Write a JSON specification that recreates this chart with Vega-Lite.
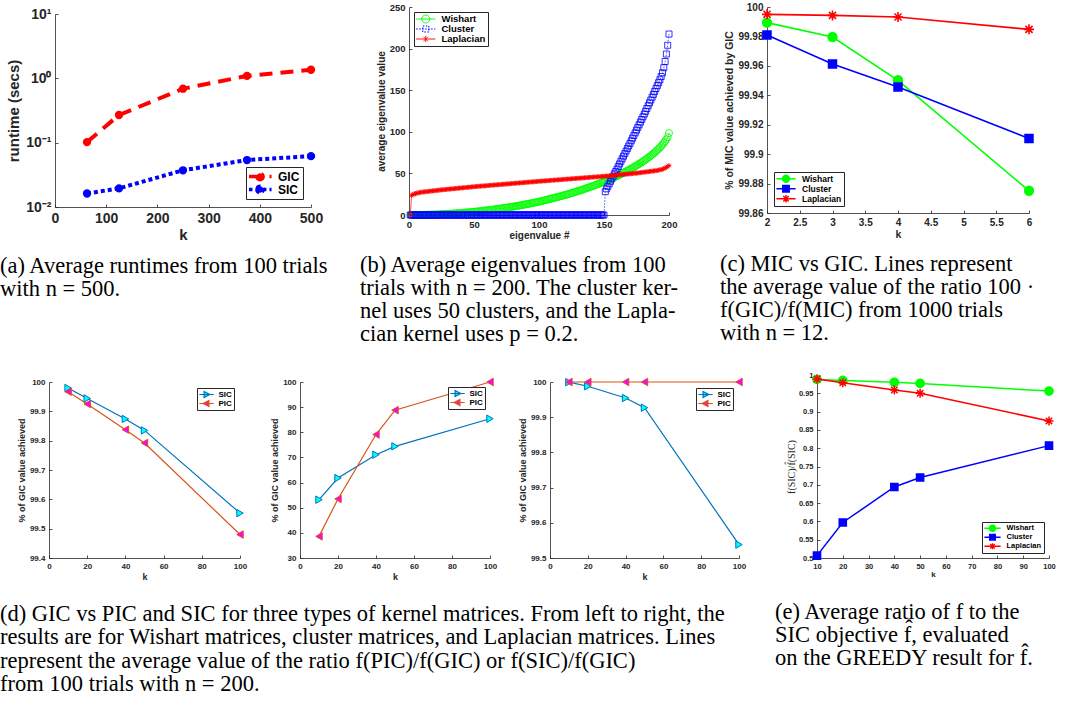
{
"$schema":"https://vega.github.io/schema/vega-lite/v6.json",
"background":"white",
"padding":{"left":0,"top":2,"right":0,"bottom":0},
"config":{
 "view":{"stroke":null},
 "axis":{"grid":false,"domainColor":"#262626","domainWidth":0.8,"tickColor":"#262626","tickWidth":0.8,"tickSize":-3,"labelPadding":7,"labelColor":"#262626","titleColor":"#262626","labelFont":"Liberation Sans","titleFont":"Liberation Sans","labelFontWeight":"bold","titleFontWeight":"bold","labelFlush":false,"labelOverlap":false},
 "legend":{"labelFont":"Liberation Sans","labelFontWeight":"bold","labelColor":"#000000","strokeColor":"#262626","fillColor":"#ffffff","symbolOpacity":1}
},
"datasets":{
"pa":[{"k":62.5,"GIC":0.102,"SIC":0.0162},{"k":125,"GIC":0.269,"SIC":0.0195},{"k":250,"GIC":0.69,"SIC":0.0372},{"k":375,"GIC":1.09,"SIC":0.0537},{"k":500,"GIC":1.36,"SIC":0.0617}],
"pc":[{"k":2,"W":99.9894,"C":99.981,"L":99.995},{"k":3,"W":99.9796,"C":99.9613,"L":99.9943},{"k":4,"W":99.9502,"C":99.9457,"L":99.9932},{"k":6,"W":99.8751,"C":99.9106,"L":99.9848}],
"pd1":[{"k":10,"S":99.9795,"P":99.967},{"k":20,"S":99.944,"P":99.925},{"k":40,"S":99.874,"P":99.8375},{"k":50,"S":99.835,"P":99.792},{"k":100,"S":99.553,"P":99.48}],
"pd2":[{"k":10,"S":53.2,"P":38.6},{"k":20,"S":61.8,"P":53.5},{"k":40,"S":71.1,"P":79.1},{"k":50,"S":74.4,"P":88.8},{"k":100,"S":85.4,"P":100}],
"pd3":[{"k":10,"S":99.9995,"P":100},{"k":20,"S":99.988,"P":100},{"k":40,"S":99.9545,"P":100},{"k":50,"S":99.927,"P":100},{"k":100,"S":99.538,"P":100}],
"pe":[{"k":10,"W":0.988,"C":0.5065,"L":0.989},{"k":20,"W":0.985,"C":0.597,"L":0.979},{"k":40,"W":0.98,"C":0.694,"L":0.959},{"k":50,"W":0.977,"C":0.72,"L":0.95},{"k":100,"W":0.956,"C":0.807,"L":0.8745}],
"pb":[
{"i":1,"w":0,"c":0,"l":0},{"i":2,"w":0,"c":0,"l":23.5},{"i":3,"w":0.01,"c":0,"l":24.6},{"i":4,"w":0.02,"c":0,"l":25.3},{"i":5,"w":0.03,"c":0,"l":25.8},{"i":6,"w":0.05,"c":0,"l":26.2},{"i":7,"w":0.07,"c":0,"l":26.6},{"i":8,"w":0.09,"c":0,"l":26.9},{"i":9,"w":0.11,"c":0,"l":27.2},{"i":10,"w":0.14,"c":0,"l":27.5},
{"i":11,"w":0.17,"c":0,"l":27.68},{"i":12,"w":0.2,"c":0,"l":27.86},{"i":13,"w":0.24,"c":0,"l":28.04},{"i":14,"w":0.28,"c":0,"l":28.22},{"i":15,"w":0.32,"c":0,"l":28.4},{"i":16,"w":0.37,"c":0,"l":28.58},{"i":17,"w":0.42,"c":0,"l":28.76},{"i":18,"w":0.47,"c":0,"l":28.94},{"i":19,"w":0.53,"c":0,"l":29.12},{"i":20,"w":0.59,"c":0,"l":29.3},
{"i":21,"w":0.65,"c":0,"l":29.48},{"i":22,"w":0.71,"c":0,"l":29.66},{"i":23,"w":0.78,"c":0,"l":29.84},{"i":24,"w":0.85,"c":0,"l":30.02},{"i":25,"w":0.93,"c":0,"l":30.2},{"i":26,"w":1.0,"c":0,"l":30.35},{"i":27,"w":1.08,"c":0,"l":30.5},{"i":28,"w":1.17,"c":0,"l":30.66},{"i":29,"w":1.25,"c":0,"l":30.81},{"i":30,"w":1.35,"c":0,"l":30.96},
{"i":31,"w":1.44,"c":0,"l":31.11},{"i":32,"w":1.54,"c":0,"l":31.26},{"i":33,"w":1.64,"c":0,"l":31.42},{"i":34,"w":1.74,"c":0,"l":31.57},{"i":35,"w":1.85,"c":0,"l":31.72},{"i":36,"w":1.96,"c":0,"l":31.87},{"i":37,"w":2.07,"c":0,"l":32.02},{"i":38,"w":2.18,"c":0,"l":32.18},{"i":39,"w":2.3,"c":0,"l":32.33},{"i":40,"w":2.43,"c":0,"l":32.48},
{"i":41,"w":2.55,"c":0,"l":32.63},{"i":42,"w":2.68,"c":0,"l":32.78},{"i":43,"w":2.81,"c":0,"l":32.94},{"i":44,"w":2.95,"c":0,"l":33.09},{"i":45,"w":3.09,"c":0,"l":33.24},{"i":46,"w":3.23,"c":0,"l":33.39},{"i":47,"w":3.37,"c":0,"l":33.54},{"i":48,"w":3.52,"c":0,"l":33.7},{"i":49,"w":3.67,"c":0,"l":33.85},{"i":50,"w":3.83,"c":0,"l":34.0},
{"i":51,"w":3.98,"c":0,"l":34.13},{"i":52,"w":4.15,"c":0,"l":34.26},{"i":53,"w":4.31,"c":0,"l":34.39},{"i":54,"w":4.48,"c":0,"l":34.52},{"i":55,"w":4.65,"c":0,"l":34.65},{"i":56,"w":4.82,"c":0,"l":34.78},{"i":57,"w":5.0,"c":0,"l":34.91},{"i":58,"w":5.18,"c":0,"l":35.04},{"i":59,"w":5.37,"c":0,"l":35.17},{"i":60,"w":5.56,"c":0,"l":35.3},
{"i":61,"w":5.75,"c":0,"l":35.43},{"i":62,"w":5.94,"c":0,"l":35.56},{"i":63,"w":6.14,"c":0,"l":35.69},{"i":64,"w":6.35,"c":0,"l":35.82},{"i":65,"w":6.55,"c":0,"l":35.95},{"i":66,"w":6.76,"c":0,"l":36.08},{"i":67,"w":6.97,"c":0,"l":36.21},{"i":68,"w":7.19,"c":0,"l":36.34},{"i":69,"w":7.41,"c":0,"l":36.47},{"i":70,"w":7.63,"c":0,"l":36.6},
{"i":71,"w":7.86,"c":0,"l":36.73},{"i":72,"w":8.09,"c":0,"l":36.86},{"i":73,"w":8.32,"c":0,"l":36.99},{"i":74,"w":8.56,"c":0,"l":37.12},{"i":75,"w":8.8,"c":0,"l":37.25},{"i":76,"w":9.04,"c":0,"l":37.38},{"i":77,"w":9.29,"c":0,"l":37.51},{"i":78,"w":9.54,"c":0,"l":37.64},{"i":79,"w":9.8,"c":0,"l":37.77},{"i":80,"w":10.06,"c":0,"l":37.9},
{"i":81,"w":10.32,"c":0,"l":38.03},{"i":82,"w":10.59,"c":0,"l":38.16},{"i":83,"w":10.86,"c":0,"l":38.29},{"i":84,"w":11.13,"c":0,"l":38.42},{"i":85,"w":11.41,"c":0,"l":38.55},{"i":86,"w":11.69,"c":0,"l":38.68},{"i":87,"w":11.97,"c":0,"l":38.81},{"i":88,"w":12.26,"c":0,"l":38.94},{"i":89,"w":12.56,"c":0,"l":39.07},{"i":90,"w":12.85,"c":0,"l":39.2},
{"i":91,"w":13.15,"c":0,"l":39.33},{"i":92,"w":13.46,"c":0,"l":39.46},{"i":93,"w":13.76,"c":0,"l":39.59},{"i":94,"w":14.07,"c":0,"l":39.72},{"i":95,"w":14.39,"c":0,"l":39.85},{"i":96,"w":14.71,"c":0,"l":39.98},{"i":97,"w":15.03,"c":0,"l":40.11},{"i":98,"w":15.36,"c":0,"l":40.24},{"i":99,"w":15.69,"c":0,"l":40.37},{"i":100,"w":16.03,"c":0,"l":40.5},
{"i":101,"w":16.41,"c":0,"l":40.62},{"i":102,"w":16.79,"c":0,"l":40.74},{"i":103,"w":17.17,"c":0,"l":40.86},{"i":104,"w":17.55,"c":0,"l":40.98},{"i":105,"w":17.93,"c":0,"l":41.1},{"i":106,"w":18.31,"c":0,"l":41.22},{"i":107,"w":18.69,"c":0,"l":41.34},{"i":108,"w":19.07,"c":0,"l":41.46},{"i":109,"w":19.45,"c":0,"l":41.58},{"i":110,"w":19.83,"c":0,"l":41.7},
{"i":111,"w":20.21,"c":0,"l":41.82},{"i":112,"w":20.63,"c":0,"l":41.94},{"i":113,"w":21.06,"c":0,"l":42.06},{"i":114,"w":21.48,"c":0,"l":42.18},{"i":115,"w":21.9,"c":0,"l":42.3},{"i":116,"w":22.33,"c":0,"l":42.42},{"i":117,"w":22.75,"c":0,"l":42.54},{"i":118,"w":23.18,"c":0,"l":42.66},{"i":119,"w":23.6,"c":0,"l":42.78},{"i":120,"w":24.02,"c":0,"l":42.9},
{"i":121,"w":24.45,"c":0,"l":43.02},{"i":122,"w":24.87,"c":0,"l":43.14},{"i":123,"w":25.34,"c":0,"l":43.26},{"i":124,"w":25.83,"c":0,"l":43.38},{"i":125,"w":26.31,"c":0,"l":43.5},{"i":126,"w":26.8,"c":0,"l":43.62},{"i":127,"w":27.28,"c":0,"l":43.74},{"i":128,"w":27.77,"c":0,"l":43.86},{"i":129,"w":28.26,"c":0,"l":43.98},{"i":130,"w":28.74,"c":0,"l":44.1},
{"i":131,"w":29.23,"c":0,"l":44.22},{"i":132,"w":29.72,"c":0,"l":44.34},{"i":133,"w":30.2,"c":0,"l":44.46},{"i":134,"w":30.75,"c":0,"l":44.58},{"i":135,"w":31.3,"c":0,"l":44.7},{"i":136,"w":31.85,"c":0,"l":44.82},{"i":137,"w":32.41,"c":0,"l":44.94},{"i":138,"w":32.96,"c":0,"l":45.06},{"i":139,"w":33.51,"c":0,"l":45.18},{"i":140,"w":34.07,"c":0,"l":45.3},
{"i":141,"w":34.62,"c":0,"l":45.42},{"i":142,"w":35.17,"c":0,"l":45.54},{"i":143,"w":35.72,"c":0,"l":45.66},{"i":144,"w":36.31,"c":0,"l":45.78},{"i":145,"w":36.94,"c":0,"l":45.9},{"i":146,"w":37.56,"c":0,"l":46.02},{"i":147,"w":38.19,"c":0,"l":46.14},{"i":148,"w":38.81,"c":0,"l":46.26},{"i":149,"w":39.44,"c":0,"l":46.38},{"i":150,"w":40.06,"c":0,"l":46.5},
{"i":151,"w":40.69,"c":28,"l":46.65},{"i":152,"w":41.31,"c":31.5,"l":46.8},{"i":153,"w":41.94,"c":34.5,"l":46.96},{"i":154,"w":42.61,"c":37.5,"l":47.11},{"i":155,"w":43.33,"c":40.5,"l":47.26},{"i":156,"w":44.05,"c":43.5,"l":47.41},{"i":157,"w":44.76,"c":46.5,"l":47.56},{"i":158,"w":45.48,"c":49.5,"l":47.72},{"i":159,"w":46.2,"c":52.3,"l":47.87},{"i":160,"w":46.92,"c":55.2,"l":48.02},
{"i":161,"w":47.64,"c":58.3,"l":48.17},{"i":162,"w":48.35,"c":61.4,"l":48.32},{"i":163,"w":49.08,"c":64.5,"l":48.48},{"i":164,"w":49.92,"c":67.6,"l":48.63},{"i":165,"w":50.75,"c":70.7,"l":48.78},{"i":166,"w":51.58,"c":73.8,"l":48.93},{"i":167,"w":52.42,"c":76.9,"l":49.08},{"i":168,"w":53.25,"c":80,"l":49.24},{"i":169,"w":54.08,"c":83,"l":49.39},{"i":170,"w":54.92,"c":86,"l":49.54},
{"i":171,"w":55.75,"c":89.2,"l":49.69},{"i":172,"w":56.63,"c":92.4,"l":49.84},{"i":173,"w":57.59,"c":95.6,"l":50.0},{"i":174,"w":58.55,"c":98.8,"l":50.15},{"i":175,"w":59.5,"c":102,"l":50.3},{"i":176,"w":60.46,"c":105.2,"l":50.5},{"i":177,"w":61.42,"c":108.4,"l":50.7},{"i":178,"w":62.37,"c":111.6,"l":50.9},{"i":179,"w":63.33,"c":114.8,"l":51.1},{"i":180,"w":64.34,"c":118,"l":51.3},
{"i":181,"w":65.49,"c":121.3,"l":51.5},{"i":182,"w":66.64,"c":124.6,"l":51.7},{"i":183,"w":67.78,"c":128,"l":51.9},{"i":184,"w":68.93,"c":131.4,"l":52.1},{"i":185,"w":70.07,"c":134.8,"l":52.3},{"i":186,"w":71.22,"c":138.2,"l":52.5},{"i":187,"w":72.39,"c":141.6,"l":52.7},{"i":188,"w":73.83,"c":145,"l":52.9},{"i":189,"w":75.26,"c":148.5,"l":53.1},{"i":190,"w":76.7,"c":152,"l":53.3},
{"i":191,"w":78.13,"c":155.5,"l":53.6},{"i":192,"w":79.57,"c":159,"l":53.9},{"i":193,"w":81.0,"c":162.5,"l":54.3},{"i":194,"w":82.82,"c":166.5,"l":54.6},{"i":195,"w":84.65,"c":171,"l":55.0},{"i":196,"w":86.58,"c":177,"l":55.7},{"i":197,"w":88.62,"c":184.5,"l":56.5},{"i":198,"w":90.78,"c":193.5,"l":57.3},{"i":199,"w":93.46,"c":204,"l":58.3},{"i":200,"w":98.5,"c":217.5,"l":59.5}
]
},
"resolve":{"scale":{"color":"independent","x":"independent","y":"independent","shape":"independent","fill":"independent","strokeDash":"independent"},"legend":{"color":"independent","shape":"independent","fill":"independent","strokeDash":"independent"}},
"spacing":25,
"vconcat":[
{
"hconcat":[
{
 "width":262,"height":200,
 "data":{"name":"pa"},
 "title":{"text":["(a) Average runtimes from 100 trials","with n = 500."],"orient":"bottom","anchor":"start","frame":"group","dx":-49,"offset":13,"font":"Liberation Serif","fontSize":22.5,"fontWeight":"normal","color":"#000000","lineHeight":23.3,"align":"left","baseline":"top"},
 "layer":[
  {"mark":{"type":"line","strokeWidth":4},
   "encoding":{
    "x":{"field":"k","type":"quantitative","scale":{"domain":[0,500],"range":[6,262],"nice":false},"axis":{"title":"k","values":[0,100,200,300,400,500],"tickCount":50,"format":".6~g","labelOverlap":false,"labelFontSize":14,"titleFontSize":15,"titlePadding":2}},
    "y":{"field":"GIC","type":"quantitative","scale":{"type":"log","domain":[0.01,10],"range":[200,7],"nice":false},"axis":{"title":"runtime (secs)","offset":-6,"values":[0.01,0.1,1,10],"tickCount":50,"labelOverlap":false,"labelExpr":"datum.value < 0.05 ? '10⁻²' : datum.value < 0.5 ? '10⁻¹' : datum.value < 5 ? '10⁰' : '10¹'","labelFontSize":14,"titleFontSize":15,"titlePadding":4}},
    "color":{"datum":"GIC","scale":{"domain":["GIC","SIC"],"range":["#FF0000","#0000FF"]},"legend":{"title":null,"orient":"bottom-right","offset":8,"padding":3,"rowPadding":0,"clipHeight":13,"labelFontSize":12,"symbolSize":49,"symbolOffset":5,"labelOffset":12,"symbolStrokeWidth":3.5}},
    "strokeDash":{"datum":"GIC","scale":{"domain":["GIC","SIC"],"range":[[13,8],[4,3]]},"legend":{"title":null,"orient":"bottom-right","offset":8,"padding":3,"rowPadding":0,"clipHeight":13,"labelFontSize":12,"symbolSize":49,"symbolOffset":5,"labelOffset":12,"symbolStrokeWidth":3.5}}
   }},
  {"mark":{"type":"point","shape":"circle","filled":true,"size":40,"fill":"#FF0000","stroke":"#FF0000","opacity":1},"encoding":{"x":{"field":"k","type":"quantitative"},"y":{"field":"GIC","type":"quantitative"}}},
  {"mark":{"type":"line","strokeWidth":4},"encoding":{"x":{"field":"k","type":"quantitative"},"y":{"field":"SIC","type":"quantitative"},"color":{"datum":"SIC"},"strokeDash":{"datum":"SIC"}}},
  {"mark":{"type":"point","shape":"circle","filled":true,"size":40,"fill":"#0000FF","stroke":"#0000FF","opacity":1},"encoding":{"x":{"field":"k","type":"quantitative"},"y":{"field":"SIC","type":"quantitative"}}},
  {"transform":[{"filter":"false"}],"mark":{"type":"point","filled":false},"encoding":{
    "shape":{"datum":"GIC","scale":{"domain":["GIC","SIC"],"range":["M-3.3,0H3.3M-0.9,0A0.9,0.9 0 1,0 0.9,0A0.9,0.9 0 1,0 -0.9,0Z","M-3.3,0H3.3M-0.9,0A0.9,0.9 0 1,0 0.9,0A0.9,0.9 0 1,0 -0.9,0Z"]},"legend":{"title":null,"orient":"bottom-right","offset":8,"padding":3,"rowPadding":0,"clipHeight":13,"labelFontSize":12,"symbolSize":49,"symbolOffset":5,"labelOffset":12,"symbolStrokeWidth":3.5}},
    "fill":{"datum":"GIC","scale":{"domain":["GIC","SIC"],"range":["#FF0000","#0000FF"]},"legend":{"title":null,"orient":"bottom-right","offset":8,"padding":3,"rowPadding":0,"clipHeight":13,"labelFontSize":12,"symbolSize":49,"symbolOffset":5,"labelOffset":12,"symbolStrokeWidth":3.5}}
  }}
 ]
},
{
 "width":260,"height":208,
 "data":{"name":"pb"},
 "title":{"text":["(b) Average eigenvalues from 100","trials with n = 200. The cluster ker-","nel uses 50 clusters, and the Lapla-","cian kernel uses p = 0.2."],"orient":"bottom","anchor":"start","frame":"group","dx":-49,"offset":13,"font":"Liberation Serif","fontSize":22.5,"fontWeight":"normal","color":"#000000","lineHeight":23.3,"align":"left","baseline":"top"},
 "layer":[
  {"mark":{"type":"line","strokeWidth":0.7},
   "encoding":{
    "x":{"field":"i","type":"quantitative","scale":{"domain":[0,200],"nice":false},"axis":{"title":"eigenvalue #","values":[0,50,100,150,200],"tickCount":50,"format":".6~g","labelOverlap":false,"labelFontSize":9.5,"titleFontSize":10,"titlePadding":2}},
    "y":{"field":"w","type":"quantitative","scale":{"domain":[0,250],"nice":false},"axis":{"title":"average eigenvalue value","values":[0,50,100,150,200,250],"tickCount":50,"format":".6~g","labelOverlap":false,"labelFontSize":9.5,"titleFontSize":10,"titlePadding":3}},
    "color":{"datum":"Wishart","scale":{"domain":["Wishart","Cluster","Laplacian"],"range":["#00FF00","#0000FF","#FF0000"]},"legend":{"title":null,"orient":"top-left","offset":5,"padding":2,"rowPadding":0,"clipHeight":10,"labelFontSize":9.5,"symbolSize":64,"symbolOffset":5,"labelOffset":11,"symbolStrokeWidth":1}},
    "strokeDash":{"datum":"Wishart","scale":{"domain":["Wishart","Cluster","Laplacian"],"range":[[1,0],[1.5,1.5],[1,0]]},"legend":{"title":null,"orient":"top-left","offset":5,"padding":2,"rowPadding":0,"clipHeight":10,"labelFontSize":9.5,"symbolSize":64,"symbolOffset":5,"labelOffset":11,"symbolStrokeWidth":1}}
   }},
  {"mark":{"type":"point","shape":"circle","filled":false,"size":50,"stroke":"#00FF00","strokeWidth":0.8,"opacity":1},"encoding":{"x":{"field":"i","type":"quantitative"},"y":{"field":"w","type":"quantitative"}}},
  {"mark":{"type":"line","strokeWidth":0.7},"encoding":{"x":{"field":"i","type":"quantitative"},"y":{"field":"c","type":"quantitative"},"color":{"datum":"Cluster"},"strokeDash":{"datum":"Cluster"}}},
  {"mark":{"type":"point","shape":"square","filled":false,"size":36,"stroke":"#0000FF","strokeWidth":0.8,"opacity":1},"encoding":{"x":{"field":"i","type":"quantitative"},"y":{"field":"c","type":"quantitative"}}},
  {"mark":{"type":"line","strokeWidth":0.7},"encoding":{"x":{"field":"i","type":"quantitative"},"y":{"field":"l","type":"quantitative"},"color":{"datum":"Laplacian"},"strokeDash":{"datum":"Laplacian"}}},
  {"mark":{"type":"point","shape":"M-1,0L1,0M0,-1L0,1M-0.71,-0.71L0.71,0.71M-0.71,0.71L0.71,-0.71","filled":false,"size":25,"stroke":"#FF0000","strokeWidth":0.8,"opacity":1},"encoding":{"x":{"field":"i","type":"quantitative"},"y":{"field":"l","type":"quantitative"}}},
  {"transform":[{"filter":"false"}],"mark":{"type":"point","filled":false},"encoding":{
    "shape":{"datum":"Wishart","scale":{"domain":["Wishart","Cluster","Laplacian"],"range":["M-2.4,0H2.4M-1,0A1,1 0 1,0 1,0A1,1 0 1,0 -1,0Z","M-2.4,0H2.4M-0.75,-0.75H0.75V0.75H-0.75Z","M-2.4,0H2.4M0,-0.8V0.8M-0.57,-0.57L0.57,0.57M-0.57,0.57L0.57,-0.57"]},"legend":{"title":null,"orient":"top-left","offset":5,"padding":2,"rowPadding":0,"clipHeight":10,"labelFontSize":9.5,"symbolSize":64,"symbolOffset":5,"labelOffset":11,"symbolStrokeWidth":1}}
  }}
 ]
},
{
 "width":262,"height":206,
 "data":{"name":"pc"},
 "title":{"text":["(c) MIC vs GIC. Lines represent","the average value of the ratio 100 ·","f(GIC)/f(MIC) from 1000 trials","with n = 12."],"orient":"bottom","anchor":"start","frame":"group","dx":-47,"offset":13,"font":"Liberation Serif","fontSize":22.5,"fontWeight":"normal","color":"#000000","lineHeight":23.3,"align":"left","baseline":"top"},
 "layer":[
  {"mark":{"type":"line","strokeWidth":1.6},
   "encoding":{
    "x":{"field":"k","type":"quantitative","scale":{"domain":[2,6],"nice":false},"axis":{"title":"k","values":[2,2.5,3,3.5,4,4.5,5,5.5,6],"tickCount":50,"format":".6~g","labelOverlap":false,"labelFontSize":10,"titleFontSize":10.5,"titlePadding":2}},
    "y":{"field":"W","type":"quantitative","scale":{"domain":[99.86,100],"nice":false},"axis":{"title":"% of MIC value achieved by GIC","values":[99.86,99.88,99.9,99.92,99.94,99.96,99.98,100],"tickCount":50,"format":".6~g","labelOverlap":false,"labelFontSize":10,"titleFontSize":10.5,"titlePadding":3}},
    "color":{"datum":"Wishart","scale":{"domain":["Wishart","Cluster","Laplacian"],"range":["#00FF00","#0000FF","#FF0000"]},"legend":{"title":null,"orient":"bottom-left","offset":7,"padding":2,"rowPadding":0,"clipHeight":9.5,"labelFontSize":8.5,"symbolSize":64,"symbolOffset":5,"labelOffset":11,"symbolStrokeWidth":1.5}}
   }},
  {"mark":{"type":"point","shape":"circle","filled":true,"size":70,"fill":"#00FF00","stroke":"#00FF00","opacity":1},"encoding":{"x":{"field":"k","type":"quantitative"},"y":{"field":"W","type":"quantitative"}}},
  {"mark":{"type":"line","strokeWidth":1.6},"encoding":{"x":{"field":"k","type":"quantitative"},"y":{"field":"C","type":"quantitative"},"color":{"datum":"Cluster"}}},
  {"mark":{"type":"point","shape":"square","filled":true,"size":56,"fill":"#0000FF","stroke":"#0000FF","opacity":1},"encoding":{"x":{"field":"k","type":"quantitative"},"y":{"field":"C","type":"quantitative"}}},
  {"mark":{"type":"line","strokeWidth":1.6},"encoding":{"x":{"field":"k","type":"quantitative"},"y":{"field":"L","type":"quantitative"},"color":{"datum":"Laplacian"}}},
  {"mark":{"type":"point","shape":"M-1,0L1,0M0,-1L0,1M-0.71,-0.71L0.71,0.71M-0.71,0.71L0.71,-0.71","filled":false,"size":100,"stroke":"#FF0000","strokeWidth":1.6,"opacity":1},"encoding":{"x":{"field":"k","type":"quantitative"},"y":{"field":"L","type":"quantitative"}}},
  {"transform":[{"filter":"false"}],"mark":{"type":"point","filled":false},"encoding":{
    "shape":{"datum":"Wishart","scale":{"domain":["Wishart","Cluster","Laplacian"],"range":["M-2.4,0H2.4M-0.85,0A0.85,0.85 0 1,0 0.85,0A0.85,0.85 0 1,0 -0.85,0Z","M-2.4,0H2.4M-0.8,-0.8H0.8V0.8H-0.8Z","M-2.4,0H2.4M0,-0.95V0.95M-0.67,-0.67L0.67,0.67M-0.67,0.67L0.67,-0.67"]},"legend":{"title":null,"orient":"bottom-left","offset":7,"padding":2,"rowPadding":0,"clipHeight":9.5,"labelFontSize":8.5,"symbolSize":64,"symbolOffset":5,"labelOffset":11,"symbolStrokeWidth":1.5}},
    "fill":{"datum":"Wishart","scale":{"domain":["Wishart","Cluster","Laplacian"],"range":["#00FF00","#0000FF","transparent"]},"legend":{"title":null,"orient":"bottom-left","offset":7,"padding":2,"rowPadding":0,"clipHeight":9.5,"labelFontSize":8.5,"symbolSize":64,"symbolOffset":5,"labelOffset":11,"symbolStrokeWidth":1.5}}
  }}
 ]
}
],
"spacing":98,"bounds":"flush",
"resolve":{"scale":{"color":"independent","x":"independent","y":"independent","shape":"independent","fill":"independent","strokeDash":"independent"},"legend":{"color":"independent","shape":"independent","fill":"independent","strokeDash":"independent"}}
},
{
"hconcat":[
{
 "width":191,"height":176,
 "data":{"name":"pd1"},
 "title":{"text":["(d) GIC vs PIC and SIC for three types of kernel matrices. From left to right, the","results are for Wishart matrices, cluster matrices, and Laplacian matrices. Lines","represent the average value of the ratio f(PIC)/f(GIC) or f(SIC)/f(GIC)","from 100 trials with n = 200."],"orient":"bottom","anchor":"start","frame":"group","dx":-49,"offset":22,"font":"Liberation Serif","fontSize":22.5,"fontWeight":"normal","color":"#000000","lineHeight":23.3,"align":"left","baseline":"top"},
 "layer":[
  {"mark":{"type":"line","strokeWidth":1.2},
   "encoding":{
    "x":{"field":"k","type":"quantitative","scale":{"domain":[0,100],"nice":false},"axis":{"title":"k","values":[0,20,40,60,80,100],"tickCount":50,"format":".6~g","labelOverlap":false,"labelFontSize":8,"titleFontSize":9,"titlePadding":2}},
    "y":{"field":"S","type":"quantitative","scale":{"domain":[99.4,100],"nice":false},"axis":{"title":"% of GIC value achieved","values":[99.4,99.5,99.6,99.7,99.8,99.9,100],"tickCount":50,"format":".6~g","labelOverlap":false,"labelFontSize":8,"titleFontSize":9,"titlePadding":3}},
    "color":{"datum":"SIC","scale":{"domain":["SIC","PIC"],"range":["#0072BD","#D95319"]},"legend":{"title":null,"orient":"top-right","offset":6,"padding":2,"rowPadding":0,"clipHeight":9,"labelFontSize":8,"symbolSize":36,"symbolOffset":3.5,"labelOffset":8,"symbolStrokeWidth":1.2}}
   }},
  {"mark":{"type":"point","shape":"triangle-right","filled":true,"size":55,"fill":"#00FFFF","stroke":"#0072BD","strokeWidth":1,"opacity":1},"encoding":{"x":{"field":"k","type":"quantitative"},"y":{"field":"S","type":"quantitative"}}},
  {"mark":{"type":"line","strokeWidth":1.2},"encoding":{"x":{"field":"k","type":"quantitative"},"y":{"field":"P","type":"quantitative"},"color":{"datum":"PIC"}}},
  {"mark":{"type":"point","shape":"triangle-left","filled":true,"size":55,"fill":"#FF00FF","stroke":"#D95319","strokeWidth":1,"opacity":1},"encoding":{"x":{"field":"k","type":"quantitative"},"y":{"field":"P","type":"quantitative"}}},
  {"transform":[{"filter":"false"}],"mark":{"type":"point","filled":false},"encoding":{
    "shape":{"datum":"SIC","scale":{"domain":["SIC","PIC"],"range":["M-2.4,0H2.4M-0.8,-1L1.1,0L-0.8,1Z","M-2.4,0H2.4M0.8,-1L-1.1,0L0.8,1Z"]},"legend":{"title":null,"orient":"top-right","offset":6,"padding":2,"rowPadding":0,"clipHeight":9,"labelFontSize":8,"symbolSize":36,"symbolOffset":3.5,"labelOffset":8,"symbolStrokeWidth":1.2}},
    "fill":{"datum":"SIC","scale":{"domain":["SIC","PIC"],"range":["#00FFFF","#FF00FF"]},"legend":{"title":null,"orient":"top-right","offset":6,"padding":2,"rowPadding":0,"clipHeight":9,"labelFontSize":8,"symbolSize":36,"symbolOffset":3.5,"labelOffset":8,"symbolStrokeWidth":1.2}}
  }}
 ]
},
{
 "width":190,"height":176,
 "data":{"name":"pd2"},
 "layer":[
  {"mark":{"type":"line","strokeWidth":1.2},
   "encoding":{
    "x":{"field":"k","type":"quantitative","scale":{"domain":[0,100],"nice":false},"axis":{"title":"k","values":[0,20,40,60,80,100],"tickCount":50,"format":".6~g","labelOverlap":false,"labelFontSize":8,"titleFontSize":9,"titlePadding":2}},
    "y":{"field":"S","type":"quantitative","scale":{"domain":[30,100],"nice":false},"axis":{"title":"% of GIC value achieved","values":[30,40,50,60,70,80,90,100],"tickCount":50,"format":".6~g","labelOverlap":false,"labelFontSize":8,"titleFontSize":9,"titlePadding":3}},
    "color":{"datum":"SIC","scale":{"domain":["SIC","PIC"],"range":["#0072BD","#D95319"]},"legend":{"title":null,"orient":"top-right","offset":5,"padding":2,"rowPadding":0,"clipHeight":9,"labelFontSize":8,"symbolSize":36,"symbolOffset":3.5,"labelOffset":8,"symbolStrokeWidth":1.2}}
   }},
  {"mark":{"type":"point","shape":"triangle-right","filled":true,"size":55,"fill":"#00FFFF","stroke":"#0072BD","strokeWidth":1,"opacity":1},"encoding":{"x":{"field":"k","type":"quantitative"},"y":{"field":"S","type":"quantitative"}}},
  {"mark":{"type":"line","strokeWidth":1.2},"encoding":{"x":{"field":"k","type":"quantitative"},"y":{"field":"P","type":"quantitative"},"color":{"datum":"PIC"}}},
  {"mark":{"type":"point","shape":"triangle-left","filled":true,"size":55,"fill":"#FF00FF","stroke":"#D95319","strokeWidth":1,"opacity":1},"encoding":{"x":{"field":"k","type":"quantitative"},"y":{"field":"P","type":"quantitative"}}},
  {"transform":[{"filter":"false"}],"mark":{"type":"point","filled":false},"encoding":{
    "shape":{"datum":"SIC","scale":{"domain":["SIC","PIC"],"range":["M-2.4,0H2.4M-0.8,-1L1.1,0L-0.8,1Z","M-2.4,0H2.4M0.8,-1L-1.1,0L0.8,1Z"]},"legend":{"title":null,"orient":"top-right","offset":5,"padding":2,"rowPadding":0,"clipHeight":9,"labelFontSize":8,"symbolSize":36,"symbolOffset":3.5,"labelOffset":8,"symbolStrokeWidth":1.2}},
    "fill":{"datum":"SIC","scale":{"domain":["SIC","PIC"],"range":["#00FFFF","#FF00FF"]},"legend":{"title":null,"orient":"top-right","offset":5,"padding":2,"rowPadding":0,"clipHeight":9,"labelFontSize":8,"symbolSize":36,"symbolOffset":3.5,"labelOffset":8,"symbolStrokeWidth":1.2}}
  }}
 ]
},
{
 "width":189,"height":176,
 "data":{"name":"pd3"},
 "layer":[
  {"mark":{"type":"line","strokeWidth":1.2},
   "encoding":{
    "x":{"field":"k","type":"quantitative","scale":{"domain":[0,100],"nice":false},"axis":{"title":"k","values":[0,20,40,60,80,100],"tickCount":50,"format":".6~g","labelOverlap":false,"labelFontSize":8,"titleFontSize":9,"titlePadding":2}},
    "y":{"field":"S","type":"quantitative","scale":{"domain":[99.5,100],"nice":false},"axis":{"title":"% of GIC value achieved","values":[99.5,99.6,99.7,99.8,99.9,100],"tickCount":50,"format":".6~g","labelOverlap":false,"labelFontSize":8,"titleFontSize":9,"titlePadding":3}},
    "color":{"datum":"SIC","scale":{"domain":["SIC","PIC"],"range":["#0072BD","#D95319"]},"legend":{"title":null,"orient":"top-right","offset":6,"padding":2,"rowPadding":0,"clipHeight":9,"labelFontSize":8,"symbolSize":36,"symbolOffset":3.5,"labelOffset":8,"symbolStrokeWidth":1.2}}
   }},
  {"mark":{"type":"point","shape":"triangle-right","filled":true,"size":55,"fill":"#00FFFF","stroke":"#0072BD","strokeWidth":1,"opacity":1},"encoding":{"x":{"field":"k","type":"quantitative"},"y":{"field":"S","type":"quantitative"}}},
  {"mark":{"type":"line","strokeWidth":1.2},"encoding":{"x":{"field":"k","type":"quantitative"},"y":{"field":"P","type":"quantitative"},"color":{"datum":"PIC"}}},
  {"mark":{"type":"point","shape":"triangle-left","filled":true,"size":55,"fill":"#FF00FF","stroke":"#D95319","strokeWidth":1,"opacity":1},"encoding":{"x":{"field":"k","type":"quantitative"},"y":{"field":"P","type":"quantitative"}}},
  {"transform":[{"filter":"false"}],"mark":{"type":"point","filled":false},"encoding":{
    "shape":{"datum":"SIC","scale":{"domain":["SIC","PIC"],"range":["M-2.4,0H2.4M-0.8,-1L1.1,0L-0.8,1Z","M-2.4,0H2.4M0.8,-1L-1.1,0L0.8,1Z"]},"legend":{"title":null,"orient":"top-right","offset":6,"padding":2,"rowPadding":0,"clipHeight":9,"labelFontSize":8,"symbolSize":36,"symbolOffset":3.5,"labelOffset":8,"symbolStrokeWidth":1.2}},
    "fill":{"datum":"SIC","scale":{"domain":["SIC","PIC"],"range":["#00FFFF","#FF00FF"]},"legend":{"title":null,"orient":"top-right","offset":6,"padding":2,"rowPadding":0,"clipHeight":9,"labelFontSize":8,"symbolSize":36,"symbolOffset":3.5,"labelOffset":8,"symbolStrokeWidth":1.2}}
  }}
 ]
},
{
 "width":250,"height":176,
 "data":{"name":"pe"},
 "title":{"text":["(e) Average ratio of f to the","SIC objective f̂, evaluated","on the GREEDY result for f̂."],"orient":"bottom","anchor":"start","frame":"group","dx":-24,"offset":22,"font":"Liberation Serif","fontSize":22.5,"fontWeight":"normal","color":"#000000","lineHeight":23.3,"align":"left","baseline":"top"},
 "layer":[
  {"mark":{"type":"line","strokeWidth":1.5},
   "encoding":{
    "x":{"field":"k","type":"quantitative","scale":{"domain":[10,100],"range":[18,250],"nice":false},"axis":{"title":"k","values":[10,20,30,40,50,60,70,80,90,100],"tickCount":50,"format":".6~g","labelOverlap":false,"labelFontSize":7.5,"titleFontSize":8,"titlePadding":1}},
    "y":{"field":"W","type":"quantitative","scale":{"domain":[0.5,1],"range":[176,-7],"nice":false},"axis":{"title":"f(SIC)/f̂(SIC)","offset":-18,"values":[0.5,0.55,0.6,0.65,0.7,0.75,0.8,0.85,0.9,0.95,1],"tickCount":50,"format":".6~g","labelOverlap":false,"labelFontSize":7.5,"titleFont":"Liberation Serif","titleFontWeight":"normal","titleFontSize":10,"titlePadding":2}},
    "color":{"datum":"Wishart","scale":{"domain":["Wishart","Cluster","Laplacian"],"range":["#00FF00","#0000FF","#FF0000"]},"legend":{"title":null,"orient":"bottom-right","offset":5,"padding":2,"rowPadding":0,"clipHeight":8.5,"labelFontSize":7.5,"symbolSize":36,"symbolOffset":4.5,"labelOffset":10,"symbolStrokeWidth":1.3}}
   }},
  {"mark":{"type":"point","shape":"circle","filled":true,"size":60,"fill":"#00FF00","stroke":"#00FF00","opacity":1},"encoding":{"x":{"field":"k","type":"quantitative"},"y":{"field":"W","type":"quantitative"}}},
  {"mark":{"type":"line","strokeWidth":1.5},"encoding":{"x":{"field":"k","type":"quantitative"},"y":{"field":"C","type":"quantitative"},"color":{"datum":"Cluster"}}},
  {"mark":{"type":"point","shape":"square","filled":true,"size":44,"fill":"#0000FF","stroke":"#0000FF","opacity":1},"encoding":{"x":{"field":"k","type":"quantitative"},"y":{"field":"C","type":"quantitative"}}},
  {"mark":{"type":"line","strokeWidth":1.5},"encoding":{"x":{"field":"k","type":"quantitative"},"y":{"field":"L","type":"quantitative"},"color":{"datum":"Laplacian"}}},
  {"mark":{"type":"point","shape":"M-1,0L1,0M0,-1L0,1M-0.71,-0.71L0.71,0.71M-0.71,0.71L0.71,-0.71","filled":false,"size":81,"stroke":"#FF0000","strokeWidth":1.5,"opacity":1},"encoding":{"x":{"field":"k","type":"quantitative"},"y":{"field":"L","type":"quantitative"}}},
  {"transform":[{"filter":"false"}],"mark":{"type":"point","filled":false},"encoding":{
    "shape":{"datum":"Wishart","scale":{"domain":["Wishart","Cluster","Laplacian"],"range":["M-2.7,0H2.7M-1,0A1,1 0 1,0 1,0A1,1 0 1,0 -1,0Z","M-2.7,0H2.7M-0.95,-0.95H0.95V0.95H-0.95Z","M-2.7,0H2.7M0,-1V1M-0.75,-0.75L0.75,0.75M-0.75,0.75L0.75,-0.75"]},"legend":{"title":null,"orient":"bottom-right","offset":5,"padding":2,"rowPadding":0,"clipHeight":8.5,"labelFontSize":7.5,"symbolSize":36,"symbolOffset":4.5,"labelOffset":10,"symbolStrokeWidth":1.3}},
    "fill":{"datum":"Wishart","scale":{"domain":["Wishart","Cluster","Laplacian"],"range":["#00FF00","#0000FF","transparent"]},"legend":{"title":null,"orient":"bottom-right","offset":5,"padding":2,"rowPadding":0,"clipHeight":8.5,"labelFontSize":7.5,"symbolSize":36,"symbolOffset":4.5,"labelOffset":10,"symbolStrokeWidth":1.3}}
  }}
 ]
}
],
"spacing":60,"bounds":"flush",
"resolve":{"scale":{"color":"independent","x":"independent","y":"independent","shape":"independent","fill":"independent","strokeDash":"independent"},"legend":{"color":"independent","shape":"independent","fill":"independent","strokeDash":"independent"}}
}
]
}
